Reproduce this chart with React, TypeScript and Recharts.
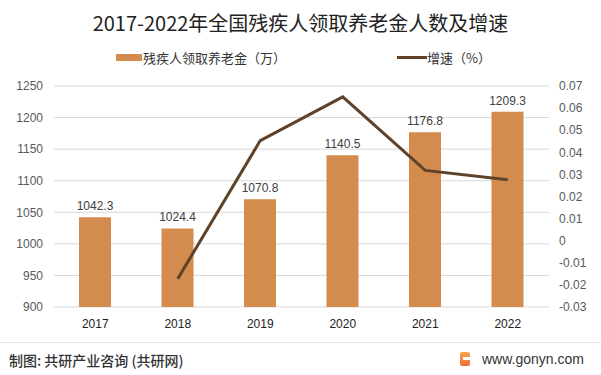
import React from 'react';
import { ComposedChart, Bar, Line, XAxis, YAxis, CartesianGrid, LabelList } from 'recharts';

const years = ['2017', '2018', '2019', '2020', '2021', '2022'];
const pension = [1042.3, 1024.4, 1070.8, 1140.5, 1176.8, 1209.3];
const growth = [null, -0.0172, 0.0453, 0.0651, 0.0318, 0.0276];
const leftTicks = [900, 950, 1000, 1050, 1100, 1150, 1200, 1250];
const rightTicks = [-0.03, -0.02, -0.01, 0, 0.01, 0.02, 0.03, 0.04, 0.05, 0.06, 0.07];

const BAR_COLOR = '#D38C4E';
const LINE_COLOR = '#5E4229';
const NUM_FONT = "'Liberation Sans', Arial, sans-serif";
const CJK_FONT = "'Noto Sans CJK SC', 'Noto Sans', sans-serif";

const data = years.map((year, i) => ({ year, pension: pension[i], growth: growth[i] }));

const fmtRate = (v: number) => String(Number(v.toFixed(2)));

const App: React.FC = () => {
  return (
    <div style={{ position: 'absolute', left: 0, top: 0, width: 601, height: 375, background: '#fff', overflow: 'hidden' }}>
      <div style={{ position: 'absolute', top: 9, left: 0, width: 601, textAlign: 'center', fontFamily: CJK_FONT, fontSize: 20, lineHeight: '28px', color: '#222' }}>
        2017-2022年全国残疾人领取养老金人数及增速
      </div>

      {/* legend */}
      <div style={{ position: 'absolute', top: 48, left: 116, display: 'flex', alignItems: 'center', fontFamily: CJK_FONT, fontSize: 13, color: '#333', height: 18 }}>
        <span style={{ display: 'inline-block', width: 26, height: 7, background: BAR_COLOR }} />
        <span style={{ marginLeft: 1 }}>残疾人领取养老金（万）</span>
      </div>
      <div style={{ position: 'absolute', top: 48, left: 397, display: 'flex', alignItems: 'center', fontFamily: CJK_FONT, fontSize: 13, color: '#333', height: 18 }}>
        <span style={{ display: 'inline-block', width: 30, height: 3, background: LINE_COLOR }} />
        <span>增速（%）</span>
      </div>

      <ComposedChart width={601} height={375} data={data} margin={{ top: 86, right: 0, bottom: 38, left: 0 }}>
        <CartesianGrid vertical={false} stroke="#D9D9D9" yAxisId="left" />
        <XAxis dataKey="year" axisLine={false} tickLine={false} tickSize={0} tickMargin={12} height={30}
          tick={{ fill: '#222', fontSize: 12, fontFamily: NUM_FONT }} />
        <YAxis yAxisId="left" domain={[900, 1250]} ticks={leftTicks} width={54} axisLine={false} tickLine={false}
          tickSize={0} tickMargin={11} tick={{ fill: '#595959', fontSize: 12, fontFamily: NUM_FONT }} />
        <YAxis yAxisId="right" orientation="right" domain={[-0.03, 0.07]} ticks={rightTicks} width={52}
          axisLine={false} tickLine={false} tickSize={0} tickMargin={10} tickFormatter={fmtRate}
          tick={{ fill: '#595959', fontSize: 12, fontFamily: NUM_FONT }} />
        <Bar yAxisId="left" dataKey="pension" fill={BAR_COLOR} barSize={32} isAnimationActive={false}>
          <LabelList dataKey="pension" position="top" offset={7} fill="#404040" fontSize={12} fontFamily={NUM_FONT} />
        </Bar>
        <Line yAxisId="right" dataKey="growth" stroke={LINE_COLOR} strokeWidth={3} dot={false}
          activeDot={false} type="linear" isAnimationActive={false} />
      </ComposedChart>

      {/* footer */}
      <div style={{ position: 'absolute', top: 342, left: 0, width: 601, height: 1, background: '#E6E6E6' }} />
      <div style={{ position: 'absolute', top: 350, left: 9, fontFamily: CJK_FONT, fontSize: 14, lineHeight: '20px', color: '#333', fontWeight: 500 }}>
        制图: 共研产业咨询 (共研网)
      </div>
      <div style={{ position: 'absolute', top: 352, left: 460, width: 10, height: 14, borderRadius: 2, background: 'linear-gradient(#F7A44A, #EF6B3A)' }}>
        <div style={{ position: 'absolute', left: 3, top: 5, width: 7, height: 3, background: '#fff' }} />
      </div>
      <div style={{ position: 'absolute', top: 349, left: 482, fontFamily: "'Liberation Sans', Arial, sans-serif", fontSize: 14, lineHeight: '20px', color: '#333' }}>
        www.gonyn.com
      </div>
    </div>
  );
};

export default App;
